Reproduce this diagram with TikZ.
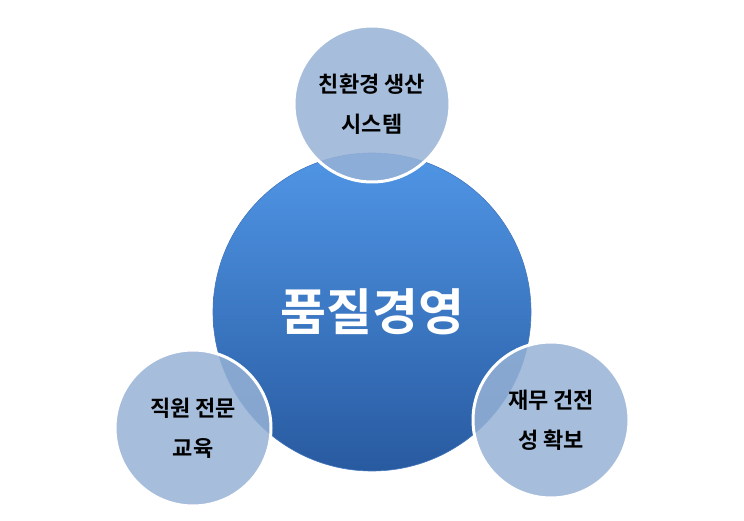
\documentclass[tikz,border=0pt]{standalone}
\usepackage{fontspec}
\newfontfamily\kr{Noto Sans CJK KR}[BoldFont={* Bold}]
\begin{document}
\begin{tikzpicture}[x=1pt,y=1pt,
  small/.style={circle,minimum size=156pt,inner sep=0pt,draw=white,line width=3pt,fill={rgb,255:red,150;green,178;blue,214},fill opacity=0.85,text opacity=1,align=center,font=\kr\bfseries\fontsize{22}{40}\selectfont,text=black},
  big/.style={circle,minimum size=318pt,draw={rgb,255:red,70;green,120;blue,190},line width=0.6pt,top color={rgb,255:red,80;green,150;blue,230},bottom color={rgb,255:red,40;green,90;blue,160},font=\kr\bfseries\fontsize{50}{56}\selectfont,text=white}]
\useasboundingbox (0,0) rectangle (744,520);
\node[big] (c) at (372,208) {품질경영};
\node[small] (t) at (372,416) {친환경 생산\\시스템};
\node[small] (l) at (193,92) {직원 전문\\교육};
\node[small] (r) at (551,100) {재무 건전\\성 확보};
\end{tikzpicture}
\end{document}
